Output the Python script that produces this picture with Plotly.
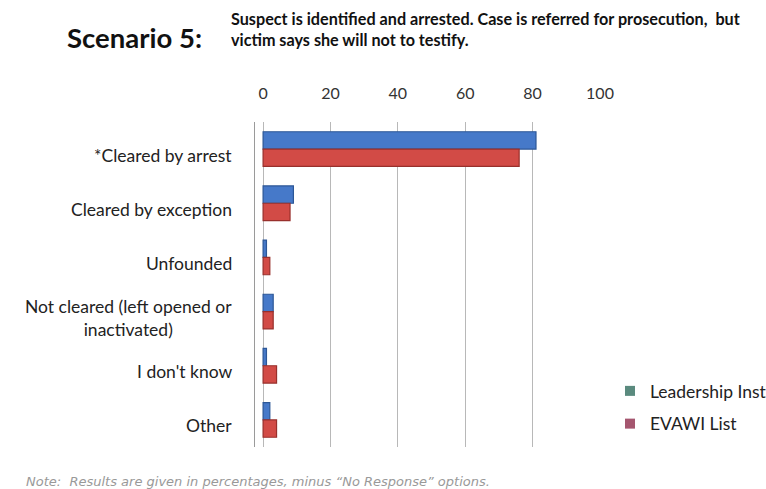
import plotly.graph_objects as go

categories = [
    "*Cleared by arrest",
    "Cleared by exception",
    "Unfounded",
    "Not cleared (left opened or<br>inactivated)",
    "I don't know",
    "Other",
]
leadership_inst = [81, 9, 1, 3, 1, 2]
evawi_list = [76, 8, 2, 3, 4, 4]
x_ticks = [0, 20, 40, 60, 80, 100]

series_names = ["Leadership Inst", "EVAWI List"]
bar_colors = ["#4679c9", "#d24b46"]
bar_edges = ["#2c5797", "#98302c"]
key_colors = ["#5a8a7e", "#a5566f"]

idx = list(range(len(categories)))

fig = go.Figure()
for name, vals, col, edge in zip(series_names, [leadership_inst, evawi_list], bar_colors, bar_edges):
    fig.add_trace(go.Bar(
        y=idx, x=vals, orientation="h", name=name, showlegend=False,
        marker=dict(color=col, line=dict(color=edge, width=1.2)),
    ))

# legend keys
for i, (name, col) in enumerate(zip(series_names, key_colors)):
    fig.add_trace(go.Scatter(
        x=[None], y=[None], mode="markers", name=name, legendgroup=f"g{i}",
        marker=dict(symbol="square", size=10, color=col),
    ))

# category labels, centred under each other for wrapped names
for i, name in enumerate(categories):
    fig.add_annotation(
        x=0, xref="paper", y=i, yref="y", text=name, showarrow=False,
        xanchor="right", yanchor="middle", xshift=-21, yshift=-6, align="center",
        font=dict(family="Lato", size=17.5, color="#222"),
    )

L, R, T, B = 255, 166, 122, 42
W = 766 - L - R
H = 489 - T - B

fig.update_layout(
    width=766, height=489,
    margin=dict(l=L, r=R, t=T, b=B, autoexpand=False),
    paper_bgcolor="white", plot_bgcolor="white",
    barmode="group", bargap=0.36, bargroupgap=0,
    showlegend=True,
    legend=dict(
        x=(610 - L) / W, y=(489 - B - 373) / H, xanchor="left", yanchor="top",
        font=dict(family="Lato", size=17.5, color="#222"),
        tracegroupgap=7, itemwidth=30, bgcolor="rgba(0,0,0,0)",
    ),
    xaxis=dict(
        side="top", range=[-2.4, 100], tickvals=x_ticks,
        showgrid=True, gridcolor="#b8b8b8", gridwidth=1,
        zeroline=False, showline=False, ticks="",
        tickfont=dict(family="Lato", size=16, color="#333"),
        ticklabelstandoff=19,
    ),
    yaxis=dict(
        range=[5.5, -0.5], showticklabels=False, showgrid=False,
        zeroline=False, showline=True, linecolor="#9a9a9a", linewidth=1,
    ),
)


def px(xp):
    return (xp - L) / W


def py(yp):
    return (489 - B - yp) / H


fig.add_annotation(
    x=px(65), y=py(38), xref="paper", yref="paper", text="<b>Scenario 5:</b>",
    showarrow=False, xanchor="left", yanchor="middle",
    font=dict(family="Lato", size=27.5, color="#111"),
)
fig.add_annotation(
    x=px(229), y=py(29), xref="paper", yref="paper",
    text="<b>Suspect is identified and arrested. Case is referred for prosecution,  but<br>victim says she will not to testify.</b>",
    showarrow=False, xanchor="left", yanchor="middle", align="left",
    font=dict(family="Lato", size=16.2, color="#111"),
)
fig.add_annotation(
    x=px(24), y=py(481), xref="paper", yref="paper",
    text="<i>Note:  Results are given in percentages, minus \u201cNo Response\u201d options.</i>",
    showarrow=False, xanchor="left", yanchor="middle",
    font=dict(family="DejaVu Sans", size=13, color="#999"),
)

fig.write_html("out.html")
